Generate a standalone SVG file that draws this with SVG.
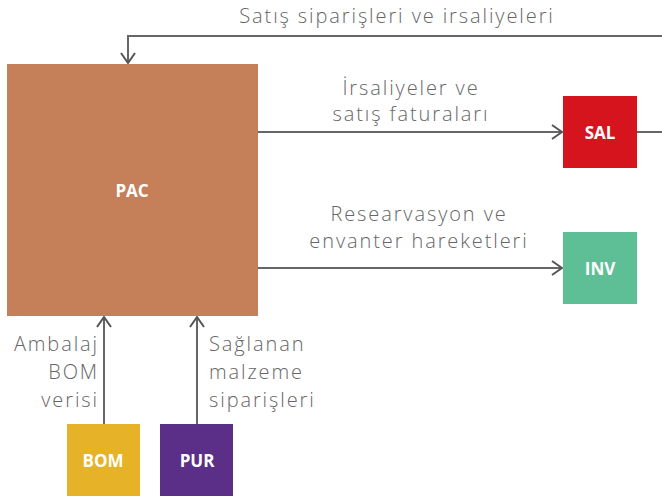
<svg xmlns="http://www.w3.org/2000/svg" width="662" height="504" viewBox="0 0 662 504">
<style>
.lbl{font-family:"Open Sans","Noto Sans",sans-serif;font-size:20px;font-weight:300;letter-spacing:1.9px;fill:#666;}
.nt{font-family:"Open Sans","Noto Sans",sans-serif;font-size:17px;font-weight:bold;fill:#fff;text-anchor:middle;}
.ln{stroke:#666;stroke-width:2;fill:none;}
</style>
<defs>
<marker id="ah" viewBox="0 0 12 16" refX="11" refY="8" markerWidth="12" markerHeight="16" markerUnits="userSpaceOnUse" orient="auto">
<path d="M1,1 L11,8 L1,15" fill="none" stroke="#555" stroke-width="2"/>
</marker>
</defs>
<rect width="662" height="504" fill="#fff"/>
<g id="connectors">
<path class="ln" d="M662,36 H128 V63" marker-end="url(#ah)"/>
<path class="ln" d="M258,132 H562" marker-end="url(#ah)"/>
<path class="ln" d="M637,132 H662"/>
<path class="ln" d="M258,268 H562" marker-end="url(#ah)"/>
<path class="ln" d="M104,424 V317" marker-end="url(#ah)"/>
<path class="ln" d="M197,424 V317" marker-end="url(#ah)"/>
<text class="lbl" x="397" y="23" text-anchor="middle">Satış siparişleri ve irsaliyeleri</text>
<text class="lbl" x="411" y="95" text-anchor="middle">İrsaliyeler ve</text>
<text class="lbl" x="411" y="121" text-anchor="middle">satış faturaları</text>
<text class="lbl" x="419" y="221" text-anchor="middle">Researvasyon ve</text>
<text class="lbl" x="419" y="248" text-anchor="middle">envanter hareketleri</text>
<text class="lbl" x="99" y="351" text-anchor="end">Ambalaj</text>
<text class="lbl" x="99" y="379" text-anchor="end">BOM</text>
<text class="lbl" x="99" y="407" text-anchor="end">verisi</text>
<text class="lbl" x="209" y="351">Sağlanan</text>
<text class="lbl" x="209" y="379">malzeme</text>
<text class="lbl" x="209" y="407">siparişleri</text>
</g>
<g id="PAC"><rect x="7" y="64" width="251" height="252" fill="#c5805a"/><text class="nt" x="132" y="197">PAC</text></g>
<g id="SAL"><rect x="563" y="96" width="74" height="72" fill="#d5141d"/><text class="nt" x="600" y="139">SAL</text></g>
<g id="INV"><rect x="563" y="232" width="74" height="72" fill="#5ebe96"/><text class="nt" x="600" y="275">INV</text></g>
<g id="BOM"><rect x="67" y="424" width="73" height="72" fill="#e6b227"/><text class="nt" x="103" y="467">BOM</text></g>
<g id="PUR"><rect x="160" y="424" width="73" height="72" fill="#5b2e87"/><text class="nt" x="197" y="467">PUR</text></g>
</svg>
